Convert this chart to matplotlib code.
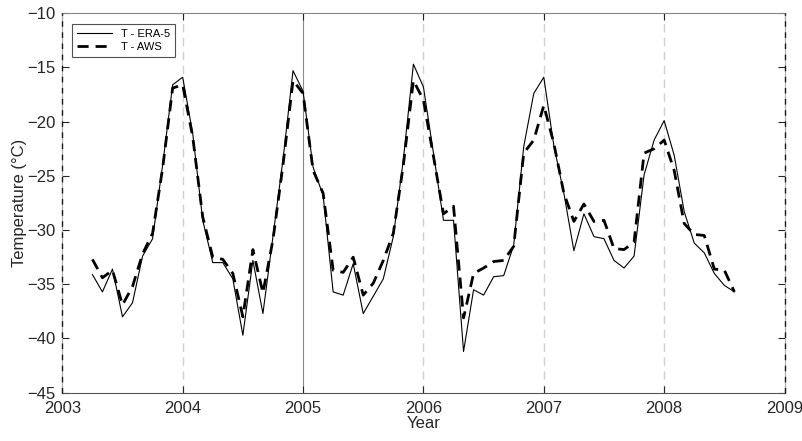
import numpy as np
import matplotlib
matplotlib.use("Agg")
import matplotlib.pyplot as plt

plt.rcParams["font.family"] = ["Liberation Sans", "DejaVu Sans"]

# monthly series, Apr 2003 .. Aug 2008
start_year = 2003
start_month = 4

t_era5 = [
    -34.1, -35.7, -33.6, -38.0, -36.7, -32.4, -30.8, -24.0, -16.6,   # 2003 Apr-Dec
    -15.9, -21.1, -29.1, -33.0, -33.0, -34.5, -39.7, -32.8, -37.7, -30.6, -23.5, -15.3,  # 2004
    -17.2, -24.2, -26.8, -35.7, -36.0, -33.1, -37.7, -36.1, -34.5, -30.6, -23.5, -14.7,  # 2005
    -16.8, -22.9, -29.1, -29.1, -41.2, -35.5, -36.0, -34.3, -34.2, -31.4, -22.3, -17.4,  # 2006
    -15.9, -22.2, -26.6, -31.9, -28.5, -30.6, -30.8, -32.8, -33.5, -32.4, -24.9, -21.7,  # 2007
    -19.9, -23.1, -28.3, -31.2, -32.1, -34.0, -35.1, -35.7,  # 2008 Jan-Aug
]

t_aws = [
    -32.7, -34.4, -33.7, -36.9, -35.2, -32.2, -30.3, -24.3, -16.9,
    -16.6, -21.4, -28.8, -32.5, -32.7, -34.0, -38.0, -31.8, -35.8, -30.9, -24.0, -16.2,
    -17.4, -24.5, -26.6, -33.7, -33.9, -32.5, -36.0, -34.9, -32.8, -30.3, -24.0, -16.2,
    -18.0, -23.2, -28.5, -27.8, -38.1, -34.0, -33.5, -32.9, -32.8, -31.5, -22.9, -21.7,
    -18.5, -22.0, -26.6, -29.2, -27.6, -29.2, -29.1, -31.7, -31.8, -31.1, -22.9, -22.5,
    -21.7, -24.5, -29.4, -30.4, -30.5, -33.6, -33.7, -35.7,
]

n = len(t_era5)
months = np.arange(n) + (start_month - 1)
time = start_year + months / 12.0

fig = plt.figure(figsize=(8.03, 4.41), dpi=100)
ax = fig.add_axes([0.0776, 0.1095, 0.8994, 0.8605])

# year markers
for yr in [2004, 2006, 2007, 2008]:
    ax.axvline(yr, color="#d0d0d0", linestyle=(0, (6, 4)), linewidth=1.0, zorder=0)
ax.axvline(2005, color="#8c8c8c", linestyle="-", linewidth=0.8, zorder=0)
for yr in [2003, 2009]:
    ax.axvline(yr, color="#1a1a1a", linestyle=(0, (4, 4)), linewidth=1.0, zorder=3, clip_on=False)

ax.plot(time, t_era5, color="black", linewidth=0.8, label="T - ERA-5")
ax.plot(time, t_aws, color="black", linewidth=2.0, linestyle=(0, (4, 2.5)), label="T - AWS")

ax.set_xlim(2003, 2009)
ax.set_ylim(-45, -10)
ax.set_xticks(range(2003, 2010))
ax.set_yticks(range(-45, -9, 5))
ax.tick_params(direction="in", length=5, width=0.8, top=True, right=True,
               labelsize=12, colors="#262626")
ax.tick_params(axis="x", pad=6)
ax.tick_params(axis="y", pad=5)
ax.set_xlabel("Year", fontsize=12, color="#262626", labelpad=0)
ax.set_ylabel("Temperature (°C)", fontsize=12, color="#262626", labelpad=0)

ax.spines["bottom"].set_color("#555555")
ax.spines["top"].set_color("#888888")
ax.spines["left"].set_color("#aaaaaa")
ax.spines["right"].set_color("#aaaaaa")
for s in ax.spines.values():
    s.set_linewidth(0.8)

leg = ax.legend(loc="upper left", fontsize=8, frameon=True, fancybox=False,
                edgecolor="#262626", handlelength=3.2, borderpad=0.4,
                labelspacing=0.3, bbox_to_anchor=(0.006, 0.985))
leg.get_frame().set_linewidth(0.8)

fig.savefig("out.png", dpi=100)
